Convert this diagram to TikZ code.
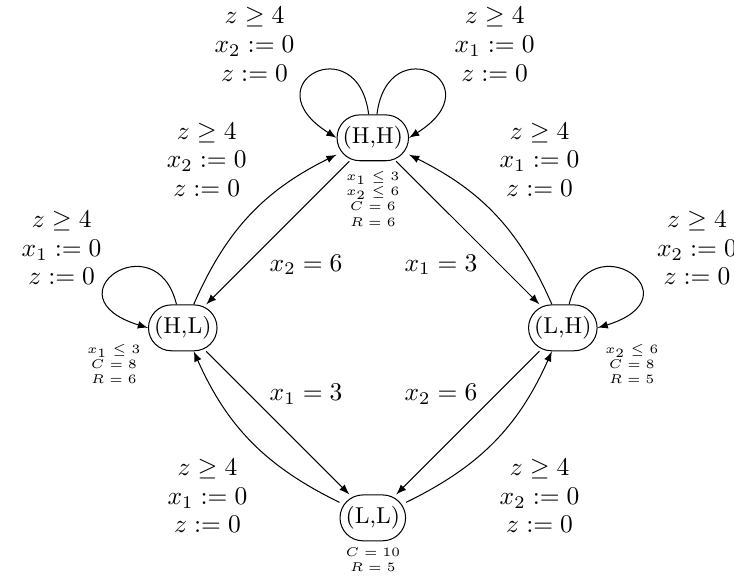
\documentclass[tikz,border=0pt]{standalone}
\tikzset{
  loc/.style={draw,rounded corners=9pt,inner xsep=2.2pt,minimum height=18pt,font=\small},
  guard/.style={align=center,font={\fontsize{10}{11.2}\selectfont}},
  inv/.style={align=center,font=\tiny},
}
\begin{document}
\begin{tikzpicture}[>=latex]
\useasboundingbox (-5.14,-3.49) rectangle (4.98,4.52);
\node[loc] (HH) at (0,2.62) {(H,H)};
\node[loc] (HL) at (-2.62,0) {(H,L)};
\node[loc] (LH) at (2.62,0) {(L,H)};
\node[loc] (LL) at (0,-2.62) {(L,L)};
\node[inv] (invHH) at (0,1.78) {$x_1\leq 3$\\$x_2\leq 6$\\$C=6$\\$R=6$};
\node[inv] (invHL) at (-3.57,-0.50) {$x_1\leq 3$\\$C=8$\\$R=6$};
\node[inv] (invLH) at (3.57,-0.50) {$x_2\leq 6$\\$C=8$\\$R=5$};
\node[inv] (invLL) at (0,-3.20) {$C=10$\\$R=5$};
\foreach \a/\b/\x/\y/\v/\c [count=\i] in {HH/HL/-0.92/0.87/2/6,HH/LH/0.94/0.87/1/3,HL/LL/-0.92/-0.92/1/3,LH/LL/0.94/-0.92/2/6}{
  \draw[->] (\a) -- (\b);
  \node[guard] (tick\i) at (\x,\y) {$x_\v=\c$};
}
\draw[->] (HL) to[bend left=20] (HH);
\draw[->] (LH) to[bend right=20] (HH);
\draw[->] (LL) to[bend left=20] (HL);
\draw[->] (LL) to[bend right=20] (LH);
\draw[->] (HH.100) .. controls +(-0.15,1.2) and +(-1.2,0.75) .. (HH.west);
\draw[->] (HH.80) .. controls +(0.15,1.2) and +(1.2,0.75) .. (HH.east);
\draw[->] (HL.105) .. controls +(-0.28,1.15) and +(-1.41,0.43) .. (HL.west);
\draw[->] (LH.75) .. controls +(0.28,1.15) and +(1.41,0.43) .. (LH.east);
\foreach \x/\y/\v [count=\i] in {-1.63/3.91/2,1.68/3.91/1,-2.29/2.32/2,2.30/2.32/1,-4.29/1.10/1,4.47/1.10/2,-2.28/-2.32/1,2.30/-2.32/2}{
  \node[guard] (reset\i) at (\x,\y) {$z\geq 4$\\$x_\v:=0$\\$z:=0$};
}
\end{tikzpicture}
\end{document}
